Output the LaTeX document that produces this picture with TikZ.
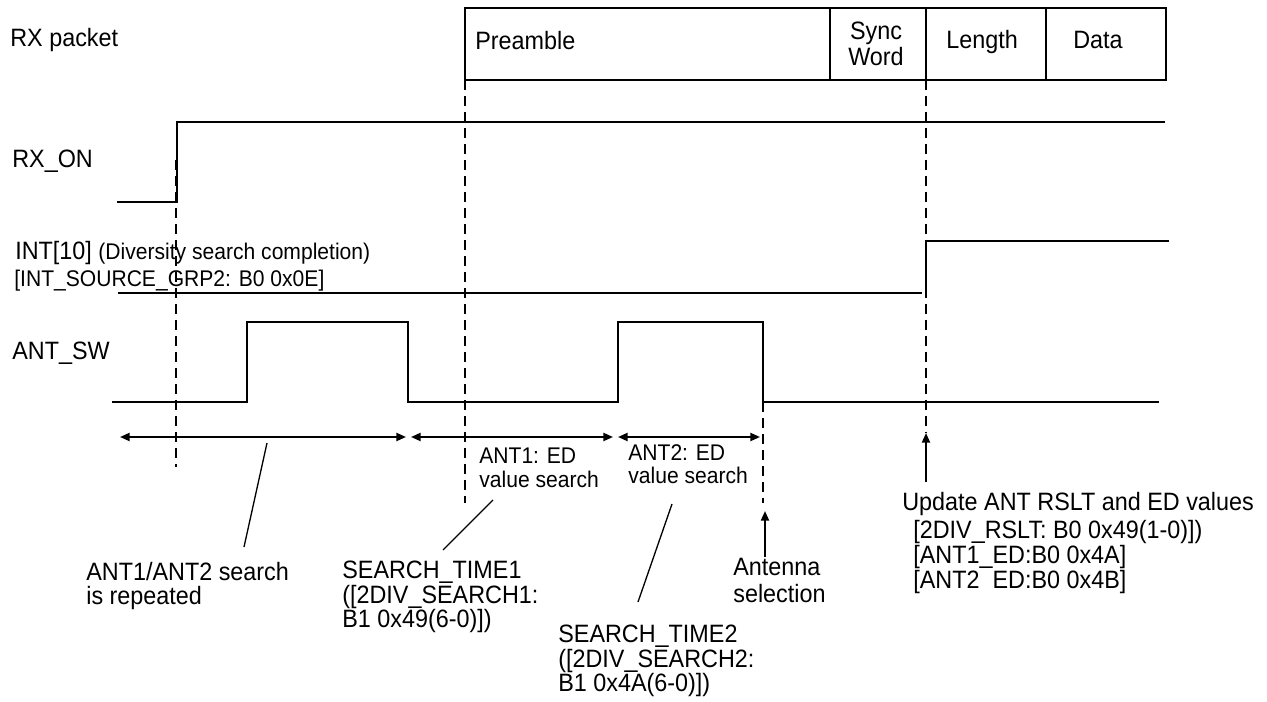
\documentclass[tikz,border=0pt]{standalone}
\usepackage{fontspec}
\setmainfont{Liberation Sans}[FakeStretch=0.93]
\usetikzlibrary{arrows.meta}
\newcommand{\fmain}{\fontsize{14.3}{16}\selectfont}
\newcommand{\fsmall}{\fontsize{12.9}{15}\selectfont}
\begin{document}
\begin{tikzpicture}[x=0.02cm,y=-0.02cm,
  sig/.style={line width=1.1pt},
  guide/.style={line width=0.85pt, dash pattern=on 5.7pt off 3.4pt},
  leader/.style={line width=0.75pt},
  span/.style={line width=1.1pt, {Triangle[length=5.5pt,width=4.6pt]}-{Triangle[length=5.5pt,width=4.6pt]}},
  uparrow/.style={line width=1.1pt, -{Triangle[length=5.5pt,width=4.6pt]}},
  lbl/.style={inner sep=0pt, anchor=base west, font=\fmain},
  slbl/.style={inner sep=0pt, anchor=base west, font=\fsmall},
  clbl/.style={inner sep=0pt, anchor=base, font=\fmain}]
\useasboundingbox (0,0) rectangle (1267,702);

% ---- packet fields
\coordinate (pTL) at (465,8);  \coordinate (pBL) at (465,80);
\coordinate (sTL) at (830,8);  \coordinate (sBL) at (830,80);
\coordinate (lTL) at (926,8);  \coordinate (lBL) at (926,80);
\coordinate (dTL) at (1046,8); \coordinate (dBL) at (1046,80);
\coordinate (eTL) at (1166,8); \coordinate (eBL) at (1166,80);
\draw[sig] (pBL) -- (pTL) -- (eTL) -- (eBL) -- cycle;
\draw[sig] (sTL) -- (sBL);
\draw[sig] (lTL) -- (lBL);
\draw[sig] (dTL) -- (dBL);
\node[lbl] (tpre) at (475,50) {Preamble};
\node[clbl] (tsync) at (876,40) {Sync};
\node[clbl] (tword) at (876,66) {Word};
\node[lbl] (tlen) at (946,49) {Length};
\node[lbl] (tdata) at (1073,49) {Data};

% ---- signal names
\node[lbl] (trx) at (10,47) {RX packet};
\node[lbl] (tron) at (12,168) {RX\_ON};
\node[lbl] (tint) at (15,260) {INT[10] {\fsmall (Diversity search completion)}};
\node[slbl] (tsrc) at (14,287) {[INT\_SOURCE\_GRP2: B0 0x0E]};
\node[lbl] (tant) at (12,359) {ANT\_SW};

% ---- guide (dashed) lines
\coordinate (g1a) at (176,160); \coordinate (g1b) at (176,467);
\coordinate (g2b) at (465,503);
\coordinate (g3a) at (763,402); \coordinate (g3b) at (763,503);
\coordinate (g4b) at (926,433);
\draw[guide] (g1a) -- (g1b);
\draw[guide] (pBL) -- (g2b);
\draw[guide] (g3a) -- (g3b);
\draw[guide] (lBL) -- (g4b);

% ---- RX_ON
\coordinate (r0) at (117,202); \coordinate (r1) at (177,202);
\coordinate (r2) at (177,122); \coordinate (r3) at (1165,122);
\draw[sig] (r0) -- (r1) -- (r2) -- (r3);

% ---- INT[10]
\coordinate (i0) at (118,293); \coordinate (i1) at (922,293);
\coordinate (i2) at (926,296); \coordinate (i3) at (926,241);
\coordinate (i4) at (1169,241);
\draw[sig] (i0) -- (i1);
\draw[sig] (i2) -- (i3) -- (i4);

% ---- ANT_SW
\coordinate (a0) at (112,402); \coordinate (a1) at (247,402);
\coordinate (a2) at (247,322); \coordinate (a3) at (408,322);
\coordinate (a4) at (408,402); \coordinate (a5) at (618,402);
\coordinate (a6) at (618,322); \coordinate (a7) at (763,322);
\coordinate (a8) at (763,402); \coordinate (a9) at (1159,402);
\draw[sig] (a0) -- (a1) -- (a2) -- (a3) -- (a4) -- (a5) -- (a6) -- (a7) -- (a8) -- (a9);

% ---- time spans
\coordinate (s1a) at (120,437); \coordinate (s1b) at (406,437);
\coordinate (s2a) at (411,437); \coordinate (s2b) at (613,437);
\coordinate (s3a) at (618,437); \coordinate (s3b) at (760,437);
\draw[span] (s1a) -- (s1b);
\draw[span] (s2a) -- (s2b);
\draw[span] (s3a) -- (s3b);

\node[slbl] (ed1a) at (479,463) {ANT1: ED};
\node[slbl] (ed1b) at (479,487) {value search};
\node[slbl] (ed2a) at (628,460) {ANT2: ED};
\node[slbl] (ed2b) at (628,483) {value search};

% ---- leaders
\coordinate (l1a) at (267,443); \coordinate (l1b) at (244,547);
\coordinate (l2a) at (493,500); \coordinate (l2b) at (443,550);
\coordinate (l3a) at (672,504); \coordinate (l3b) at (638,602);
\draw[leader] (l1a) -- (l1b);
\draw[leader] (l2a) -- (l2b);
\draw[leader] (l3a) -- (l3b);

% ---- up arrows
\coordinate (u1a) at (765,557); \coordinate (u1b) at (765,511);
\coordinate (u2a) at (926,482);
\draw[uparrow] (u1a) -- (u1b);
\draw[uparrow] (u2a) -- (g4b);

% ---- annotations
\node[lbl] (rep1) at (86,580) {ANT1/ANT2 search};
\node[lbl] (rep2) at (86,604) {is repeated};
\node[lbl] (st1a) at (342,578) {SEARCH\_TIME1};
\node[lbl] (st1b) at (342,603) {([2DIV\_SEARCH1:};
\node[lbl] (st1c) at (342,627) {B1 0x49(6-0)])};
\node[lbl] (st2a) at (558,642) {SEARCH\_TIME2};
\node[lbl] (st2b) at (558,667) {([2DIV\_SEARCH2:};
\node[lbl] (st2c) at (558,691) {B1 0x4A(6-0)])};
\node[lbl] (sel1) at (733,575) {Antenna};
\node[lbl] (sel2) at (733,602) {selection};
\node[lbl] (upd1) at (902,510) {Update ANT RSLT and ED values};
\node[lbl] (upd2) at (913,538) {[2DIV\_RSLT: B0 0x49(1-0)])};
\node[lbl] (upd3) at (913,563) {[ANT1\_ED:B0 0x4A]};
\node[lbl] (upd4) at (913,588) {[ANT2\phantom{\_}ED:B0 0x4B]};
\end{tikzpicture}
\end{document}
